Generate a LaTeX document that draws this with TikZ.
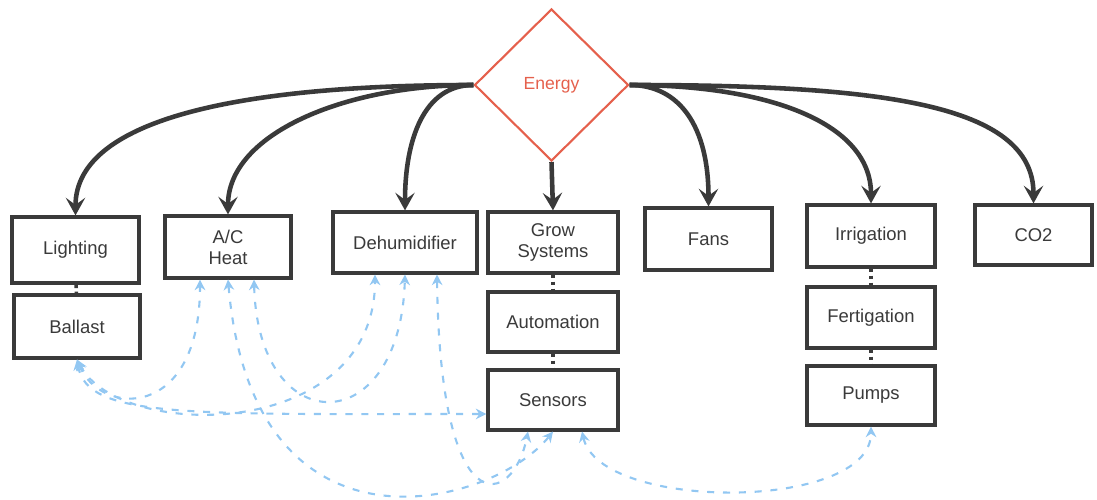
\documentclass[tikz,border=0pt]{standalone}
\usepackage{fontspec}
\setmainfont{Liberation Sans}
\usetikzlibrary{shapes.geometric,arrows.meta,positioning}
\definecolor{boxline}{HTML}{3a3a3a}
\definecolor{energyred}{HTML}{e5604c}
\definecolor{linkblue}{HTML}{92c7f2}

\begin{document}
\begin{tikzpicture}[
  box/.style={draw=boxline, line width=1.8pt, fill=white, text=boxline, align=center, inner sep=0pt, minimum height=1.22cm, font=\fontsize{10.5}{12}\selectfont},
  feed/.style={draw=boxline, line width=2.6pt, -{Stealth[length=10pt,width=11pt,inset=4pt]}},
  chain/.style={draw=boxline, line width=2pt, dotted},
  link/.style={draw=linkblue, line width=1.2pt, dash pattern=on 4pt off 5pt, {Stealth[length=6pt,width=6pt]}-{Stealth[length=6pt,width=6pt]}}
]
  \useasboundingbox (0,0) rectangle (21.94,10);

  % Energy source
  \node[diamond, draw=energyred, line width=1.2pt, minimum width=3.08cm, minimum height=3.04cm, inner sep=0pt, text=energyred, font=\fontsize{10}{12}\selectfont] (energy) at (11.03,8.3) {Energy};

  % Loads, left to right
  \node[box, minimum width=2.54cm, minimum height=1.32cm] (lighting) at (1.51,5.00) {Lighting};
  \node[box, minimum width=2.52cm, minimum height=1.26cm] (ballast) at (1.54,3.47) {Ballast};
  \node[box, minimum width=2.52cm, minimum height=1.24cm] (acheat) at (4.56,5.06) {A/C\\Heat};
  \node[box, minimum width=2.88cm] (dehum) at (8.10,5.15) {Dehumidifier};
  \node[box, minimum width=2.60cm] (grow) at (11.06,5.15) {Grow\\Systems};
  \node[box, minimum width=2.60cm, minimum height=1.20cm] (autom) at (11.06,3.56) {Automation};
  \node[box, minimum width=2.60cm, minimum height=1.20cm] (sensors) at (11.06,2.00) {Sensors};
  \node[box, minimum width=2.54cm, minimum height=1.24cm] (fans) at (14.17,5.22) {Fans};
  \node[box, minimum width=2.56cm, minimum height=1.24cm] (irrig) at (17.42,5.28) {Irrigation};
  \node[box, minimum width=2.56cm] (fert) at (17.42,3.65) {Fertigation};
  \node[box, minimum width=2.56cm, minimum height=1.18cm] (pumps) at (17.42,2.09) {Pumps};
  \node[box, minimum width=2.34cm, minimum height=1.20cm] (co2) at (20.67,5.30) {CO2};

  % Energy feeds
  \draw[feed] (energy.west) to[out=180,in=90,out distance=4.4cm,in distance=2cm] (lighting.north);
  \draw[feed] (energy.west) to[out=180,in=90,out distance=2.6cm,in distance=1.6cm] (acheat.north);
  \draw[feed] (energy.west) to[out=180,in=90,out distance=1cm,in distance=1.4cm] (dehum.north);
  \draw[feed] (energy.south) -- (grow.north);
  \draw[feed] (energy.east) to[out=0,in=90,out distance=1cm,in distance=1.6cm] (fans.north);
  \draw[feed] (energy.east) to[out=0,in=90,out distance=2.8cm,in distance=1.6cm] (irrig.north);
  \draw[feed] (energy.east) to[out=0,in=90,out distance=5cm,in distance=2cm] (co2.north);

  % Stacked parts
  \draw[chain] (lighting) -- (ballast);
  \draw[chain] (grow) -- (autom);
  \draw[chain] (autom) -- (sensors);
  \draw[chain] (irrig) -- (fert);
  \draw[chain] (fert) -- (pumps);

  % Dashed links
  \draw[link] (ballast.south) .. controls +(0.2,-1.18) and +(-6,0) .. ([yshift=-0.28cm]sensors.west);
  \draw[link] (ballast.south) .. controls +(0.86,-1.64) and +(0,-3.34) .. ([xshift=-0.6cm]dehum.south);
  \draw[link] (ballast.south) .. controls +(0.46,-1.14) and +(0,-2.84) .. ([xshift=-0.56cm]acheat.south);
  \draw[link] (acheat.south) .. controls +(0.5,-5.84) and +(-1.2,-1.5) .. (sensors.south);
  \draw[link] ([xshift=0.52cm]acheat.south) .. controls +(0.08,-3.24) and +(-0.1,-3.34) .. (dehum.south);
  \draw[link] ([xshift=0.64cm]dehum.south) .. controls +(0.06,-5.1) and +(-0.3,-1.5) .. ([xshift=-0.5cm]sensors.south);
  \draw[link] ([xshift=0.58cm]sensors.south) .. controls +(0.36,-1.6) and +(0,-1.7) .. (pumps.south);
\end{tikzpicture}
\end{document}
